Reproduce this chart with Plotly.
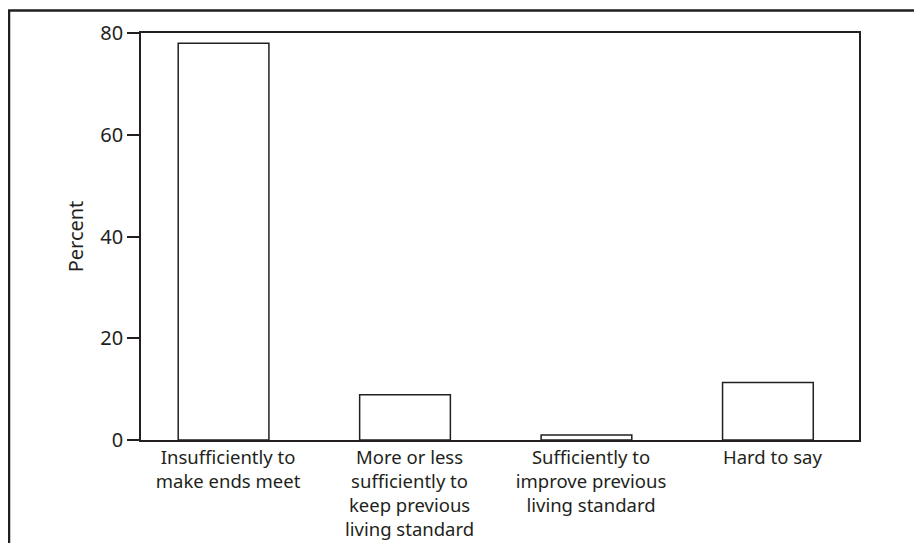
import plotly.graph_objects as go

# -------------------------
# DATA
# -------------------------
categories = [
    "Insufficiently to<br>make ends meet",
    "More or less<br>sufficiently to<br>keep previous<br>living standard",
    "Sufficiently to<br>improve previous<br>living standard",
    "Hard to say",
]
percent = [78.0, 8.9, 1.0, 11.3]
y_ticks = [0, 20, 40, 60, 80]

INK = "#231f20"
FONT = "Noto Sans, Open Sans, sans-serif"

# the page adds an 8px body margin, so the figure is sized to the visible area
W, H = 914, 535
L, R, T, B = 133, 63, 25, 103
PW, PH = W - L - R, H - T - B

fig = go.Figure()

fig.add_trace(go.Bar(
    x=categories,
    y=percent,
    width=0.5,
    offset=-0.275,
    marker=dict(color="white", line=dict(color=INK, width=1.5)),
    showlegend=False,
))

fig.update_layout(
    width=W,
    height=H,
    margin=dict(l=L, r=R, t=T, b=B),
    paper_bgcolor="white",
    plot_bgcolor="white",
    font=dict(family=FONT, size=20, color=INK),
)

fig.update_xaxes(
    type="category",
    range=[-0.48, 3.477],
    automargin=False,
    showline=True,
    linecolor=INK,
    linewidth=1.5,
    mirror=True,
    ticks="",
    showgrid=False,
    tickfont=dict(size=18.5),
)

fig.update_yaxes(
    range=[0, 80],
    tickvals=y_ticks,
    automargin=False,
    showline=True,
    linecolor=INK,
    linewidth=1.5,
    mirror=True,
    ticks="outside",
    ticklen=12,
    tickwidth=1.5,
    tickcolor=INK,
    showgrid=False,
    zeroline=False,
    title=dict(text="Percent", font=dict(size=20), standoff=11),
    tickfont=dict(size=20),
)

# outer frame of the exhibit (cut off at right and bottom)
fig.add_shape(
    type="rect",
    xref="paper", yref="paper",
    x0=(1 - L) / PW, x1=1.3,
    y0=-0.5, y1=(H - B - 2.5) / PH,
    line=dict(color=INK, width=2.5),
    fillcolor="rgba(0,0,0,0)",
    layer="below",
)

fig.write_html("out.html")
